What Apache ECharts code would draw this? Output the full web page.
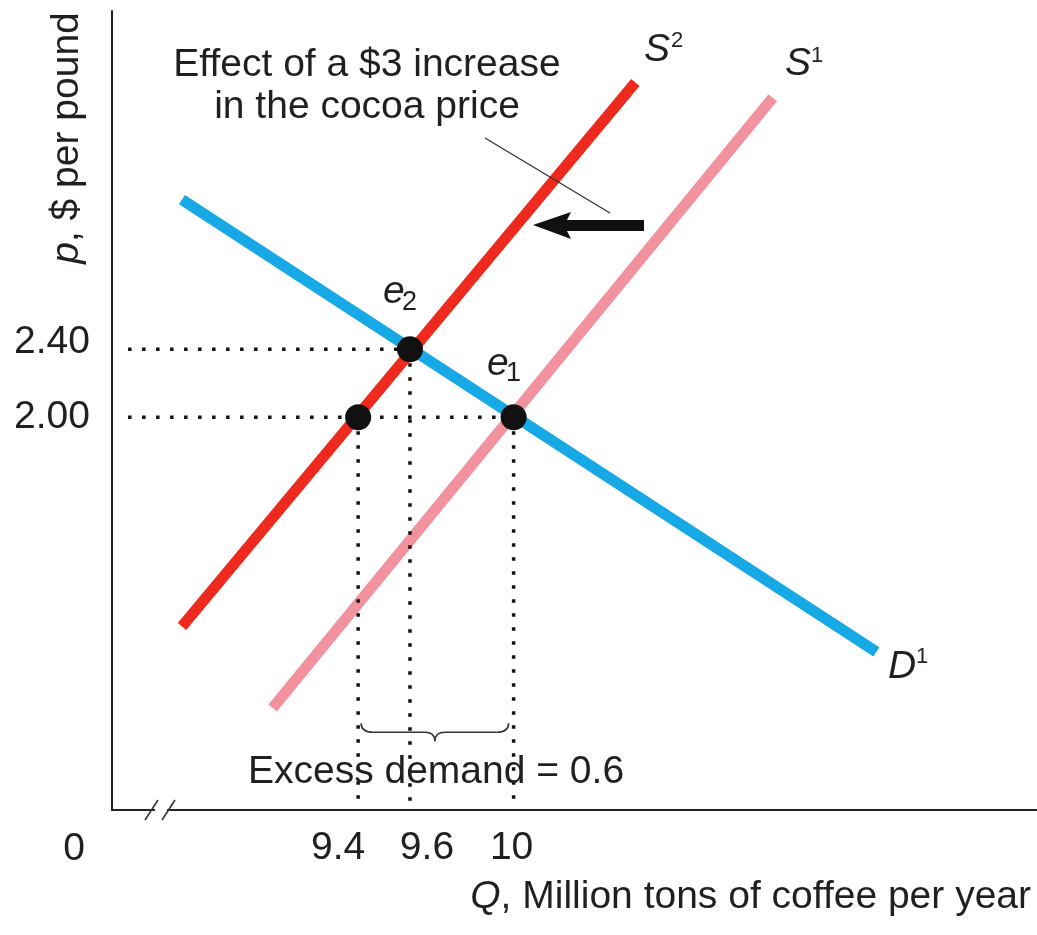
<!DOCTYPE html>
<html>
<head>
<meta charset="utf-8">
<script src="https://cdn.jsdelivr.net/npm/echarts@6/dist/echarts.min.js"></script>
<style>
html,body{margin:0;padding:0;background:#fff;}
#c{width:1037px;height:935px;}
</style>
</head>
<body>
<div id="c"></div>
<script>
// ---- data ----
const supply1 = [[9.07, 0.29], [11.00, 3.88]];   // S1
const supply2 = [[8.72, 0.77], [10.47, 3.97]];   // S2
const demand1 = [[8.72, 3.28], [11.40, 0.62]];   // D1
const eqQ = [9.4, 9.6, 10];
const eqP = [2.00, 2.40, 2.00];
const xTickValues = [9.4, 9.6, 10];
const yTickValues = [2.00, 2.40];
const axisMinQ = 8.45, axisMaxQ = 12.02;
const axisMinP = -0.31, axisMaxP = 4.39;
const guideStartQ = 8.512;

const FONT = "'Liberation Sans', Arial, sans-serif";
const FS = 39;
const TXT = '#231f20';
const RED = '#ee2a1f', PINK = '#f2929f', BLUE = '#17a8e6';

const chart = echarts.init(document.getElementById('c'), null, {renderer: 'canvas'});

const points = eqQ.map((q, i) => [q, eqP[i]]);
const hGuides = [];
const vGuides = [];
points.forEach(p => {
  hGuides.push([guideStartQ, p[1]], [p[0], p[1]], null);
  vGuides.push([p[0], p[1]], [p[0], axisMinP], null);
});

function lineSeries(data, color, z) {
  return {type: 'line', data, symbol: 'none', z, silent: true, animation: false,
    lineStyle: {color, width: 11, cap: 'butt'}};
}
const dotStyle = {color: '#111', width: 3.5, type: [3.5, 10.5], cap: 'butt'};

chart.setOption({
  animation: false,
  grid: {left: 112, right: 0, top: 11, bottom: 125, containLabel: false},
  xAxis: {
    type: 'value', min: axisMinQ, max: axisMaxQ,
    splitLine: {show: false},
    axisTick: {show: false},
    axisLine: {onZero: false, lineStyle: {color: '#222', width: 2}},
    axisLabel: {
      customValues: xTickValues,
      margin: 19,
      fontFamily: FONT, fontSize: FS, color: TXT,
      formatter: v => {
        if (Math.abs(v - 9.4) < 1e-6) return '{a|9.4}';
        if (Math.abs(v - 9.6) < 1e-6) return '{b|9.6}';
        return '{c|' + String(v) + '}';
      },
      rich: {
        a: {fontFamily: FONT, fontSize: FS, color: TXT, padding: [0, 40, 0, 0]},
        b: {fontFamily: FONT, fontSize: FS, color: TXT, padding: [0, 0, 0, 34]},
        c: {fontFamily: FONT, fontSize: FS, color: TXT, padding: [0, 4, 0, 0]}
      }
    }
  },
  yAxis: {
    type: 'value', min: axisMinP, max: axisMaxP,
    splitLine: {show: false},
    axisTick: {show: false},
    axisLine: {onZero: false, lineStyle: {color: '#222', width: 2}},
    axisLabel: {
      customValues: yTickValues,
      margin: 22,
      fontFamily: FONT, fontSize: FS, color: TXT,
      formatter: v => (Math.abs(v - 2.4) < 1e-6 ? '{u|' : '{n|') + v.toFixed(2) + '}',
      rich: {
        u: {fontFamily: FONT, fontSize: FS, color: TXT, padding: [0, 0, 14, 0]},
        n: {fontFamily: FONT, fontSize: FS, color: TXT}
      }
    }
  },
  series: [
    lineSeries(supply1, PINK, 2),
    lineSeries(supply2, RED, 3),
    lineSeries(demand1, BLUE, 4),
    {type: 'line', data: hGuides, symbol: 'none', z: 5, silent: true, connectNulls: false, lineStyle: dotStyle},
    {type: 'line', data: vGuides, symbol: 'none', z: 5, silent: true, connectNulls: false, lineStyle: dotStyle},
    {type: 'scatter', data: points, symbol: 'circle', symbolSize: 26, z: 6, silent: true,
      itemStyle: {color: '#111', opacity: 1}}
  ]
});

// ---- annotations ----
const px = (q, p) => chart.convertToPixel({gridIndex: 0}, [q, p]);
function txt(x, y, text, opt) {
  opt = opt || {};
  const size = opt.size || FS;
  return {
    type: 'text', x, y, z: 20, rotation: opt.rotation || 0, silent: true,
    style: {
      text, fill: TXT,
      font: (opt.italic ? 'italic ' : '') + size + 'px ' + FONT,
      fontSize: size, fontFamily: FONT, fontStyle: opt.italic ? 'italic' : 'normal',
      align: opt.align || 'left', verticalAlign: 'middle',
      textAlign: opt.align || 'left', textVerticalAlign: 'middle',
      rich: opt.rich
    }
  };
}
const stroke = {stroke: '#333', lineWidth: 1.6, fill: null};
function seg(x1, y1, x2, y2) {
  return {type: 'line', z: 16, silent: true, shape: {x1, y1, x2, y2}, style: stroke};
}
function quad(x1, y1, cx, cy, x2, y2) {
  return {type: 'bezierCurve', z: 16, silent: true,
    shape: {x1, y1, x2, y2, cpx1: cx, cpy1: cy}, style: stroke};
}

const o = px(axisMinQ, axisMinP);
const e94 = px(9.4, 2.0), e10 = px(10, 2.0);
const braceY = e94[1] + 315;
const bl = e94[0] + 3, br = e10[0] - 5, bm = (bl + br) / 2;

const italicRich = {i: {fontStyle: 'italic', fontFamily: FONT, fontSize: FS, fill: TXT, color: TXT}};

const graphics = [
  // axis break marks
  {type: 'rect', z: 15, silent: true, shape: {x: o[0] + 43, y: o[1] - 3, width: 12, height: 6}, style: {fill: '#fff'}},
  {type: 'line', z: 16, silent: true, shape: {x1: o[0] + 33, y1: o[1] + 10, x2: o[0] + 46, y2: o[1] - 10}, style: {stroke: '#333', lineWidth: 1.6}},
  {type: 'line', z: 16, silent: true, shape: {x1: o[0] + 50, y1: o[1] + 10, x2: o[0] + 63, y2: o[1] - 10}, style: {stroke: '#333', lineWidth: 1.6}},
  // origin label
  txt(o[0] - 38, o[1] + 39, '0', {align: 'center'}),
  // axis names
  txt(67, 138, '{i|p}, $ per pound', {align: 'center', rotation: Math.PI / 2, rich: italicRich}),
  txt(1031, 897, '{i|Q}, Million tons of coffee per year', {align: 'right', rich: italicRich}),
  // effect note
  txt(367, 65, 'Effect of a $3 increase', {align: 'center'}),
  txt(367, 107, 'in the cocoa price', {align: 'center'}),
  {type: 'line', z: 16, silent: true, shape: {x1: 485, y1: 138, x2: 610, y2: 213}, style: {stroke: '#333', lineWidth: 1.3}},
  {type: 'polygon', z: 16, silent: true,
    shape: {points: [[533, 225], [571, 212], [567, 220], [644, 220], [644, 231], [567, 231], [571, 239]]},
    style: {fill: '#111'}},
  // curve labels
  txt(644, 50, 'S', {italic: true}), txt(671, 41, '2', {size: 22}),
  txt(785, 64, 'S', {italic: true}), txt(811, 56, '1', {size: 22}),
  txt(888, 667, 'D', {italic: true}), txt(916, 657, '1', {size: 22}),
  txt(383, 292, 'e', {italic: true}), txt(402, 303, '2', {size: 27}),
  txt(487, 364, 'e', {italic: true}), txt(506, 374, '1', {size: 27}),
  // excess demand brace
  quad(bl, braceY - 9, bl, braceY, bl + 12, braceY),
  seg(bl + 12, braceY, bm - 10, braceY),
  quad(bm - 10, braceY, bm, braceY, bm, braceY + 9),
  quad(bm, braceY + 9, bm, braceY, bm + 10, braceY),
  seg(bm + 10, braceY, br - 12, braceY),
  quad(br - 12, braceY, br, braceY, br, braceY - 9),
  txt(436, 772, 'Excess demand = 0.6', {align: 'center'})
];
chart.setOption({graphic: graphics});
</script>
</body>
</html>
